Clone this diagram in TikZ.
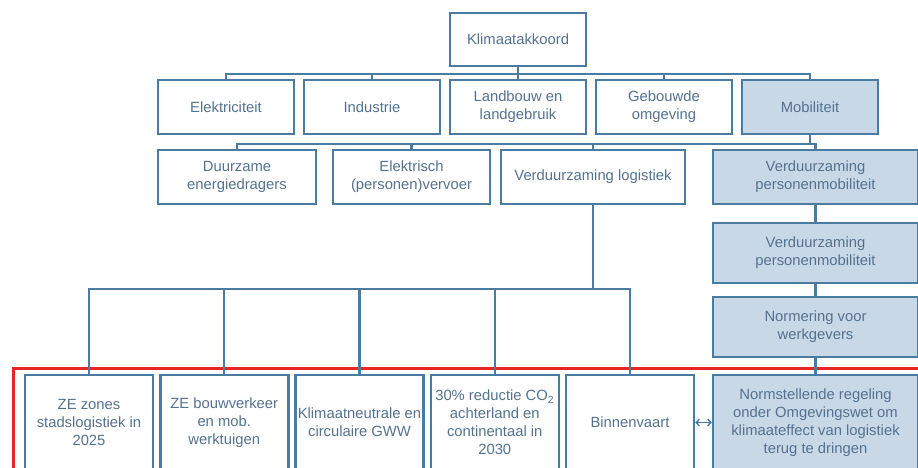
\documentclass[tikz,border=0pt]{standalone}
\usepackage{fontspec}
\setmainfont{Liberation Sans}
\usepackage{xcolor}
\usetikzlibrary{arrows, positioning}
\definecolor{boxline}{RGB}{74,124,162}
\definecolor{boxfill}{RGB}{201,216,230}
\definecolor{boxtext}{RGB}{84,114,144}
\definecolor{redframe}{RGB}{232,36,40}

\begin{document}
\begin{tikzpicture}[x=1pt,y=-1pt,on grid]
    \tikzstyle{blok}=[shape=rectangle,draw=boxline,line width=2.5pt,text=boxtext,align=center,inner sep=0pt,font=\fontsize{14.8}{18}\selectfont]
    \tikzstyle{topblok}=[blok,minimum width=136pt,minimum height=54pt]
    \tikzstyle{mobblok}=[blok,fill=boxfill,minimum width=205pt]
    \tikzstyle{laagblok}=[blok,minimum width=128pt,minimum height=95pt]
    \tikzstyle{verbinding}=[draw=boxline,line width=2.2pt]

    \useasboundingbox (0,0) rectangle (918,467);

    % rode kader
    \draw[redframe, line width=3pt] (13,368) rectangle (930,480);

    \node[topblok, minimum height=53pt] (K) at (518,39.5) {Klimaatakkoord};
    \node[topblok] (S3) at (518,107) {Landbouw en\\landgebruik};
    \node[topblok, left=146pt of S3] (S2) {Industrie};
    \node[topblok, left=146pt of S2] (S1) {Elektriciteit};
    \node[topblok, right=146pt of S3] (S4) {Gebouwde\\omgeving};
    \node[topblok, fill=boxfill, right=146pt of S4] (S5) {Mobiliteit};

    \node[blok, minimum width=158pt, minimum height=54pt] (M1) at (237,177) {Duurzame\\energiedragers};
    \node[blok, minimum width=157pt, minimum height=54pt] (M2) at (411.5,177) {Elektrisch\\(personen)vervoer};
    \node[blok, minimum width=184pt, minimum height=54pt] (M3) at (593,177) {Verduurzaming logistiek};
    \node[mobblok, minimum height=54pt] (P1) at (815.5,177) {Verduurzaming\\personenmobiliteit};
    \node[mobblok, minimum height=60pt, below=76pt of P1] (P2) {Verduurzaming\\personenmobiliteit};
    \node[mobblok, minimum height=60pt, below=74pt of P2] (P3) {Normering voor\\werkgevers};
    \node[mobblok, minimum height=95pt, below=95.5pt of P3] (P4) {Normstellende regeling\\onder Omgevingswet om\\klimaateffect van logistiek\\terug te dringen};

    \node[laagblok] (L1) at (89,422.5) {ZE zones\\stadslogistiek in\\2025};
    \node[laagblok, right=135.25pt of L1] (L2) {ZE bouwverkeer\\en mob.\\werktuigen};
    \node[laagblok, right=135.25pt of L2] (L3) {Klimaatneutrale en\\circulaire GWW};
    \node[laagblok, right=135.25pt of L3] (L4) {30\% reductie CO\textsubscript{2}\\achterland en\\continentaal in\\2030};
    \node[laagblok, right=135.25pt of L4] (L5) {Binnenvaart};

    \path[verbinding]
    (K.south) -- ++(0,7) -| (S1.north)
    (K.south) -- ++(0,7) -| (S2.north)
    (K.south) -- (S3.north)
    (K.south) -- ++(0,7) -| (S4.north)
    (K.south) -- ++(0,7) -| (S5.north)
    (S5.south) -- ++(0,9) -| (M1.north)
    (S5.south) -- ++(0,9) -| (M2.north)
    (S5.south) -- ++(0,9) -| (M3.north)
    (S5.south) -- ++(0,9) -| (P1.north)
    (P1) -- (P2)
    (P2) -- (P3)
    (P3) -- (P4)
    (M3.south) -- ++(0,84) -| (L1.north)
    (M3.south) -- ++(0,84) -| (L2.north)
    (M3.south) -- ++(0,84) -| (L3.north)
    (M3.south) -- ++(0,84) -| (L4.north)
    (M3.south) -- ++(0,84) -| (L5.north)
    ;
    \draw[verbinding, line width=1.8pt, <->] (L5.east) -- (P4.west);

\end{tikzpicture}
\end{document}
